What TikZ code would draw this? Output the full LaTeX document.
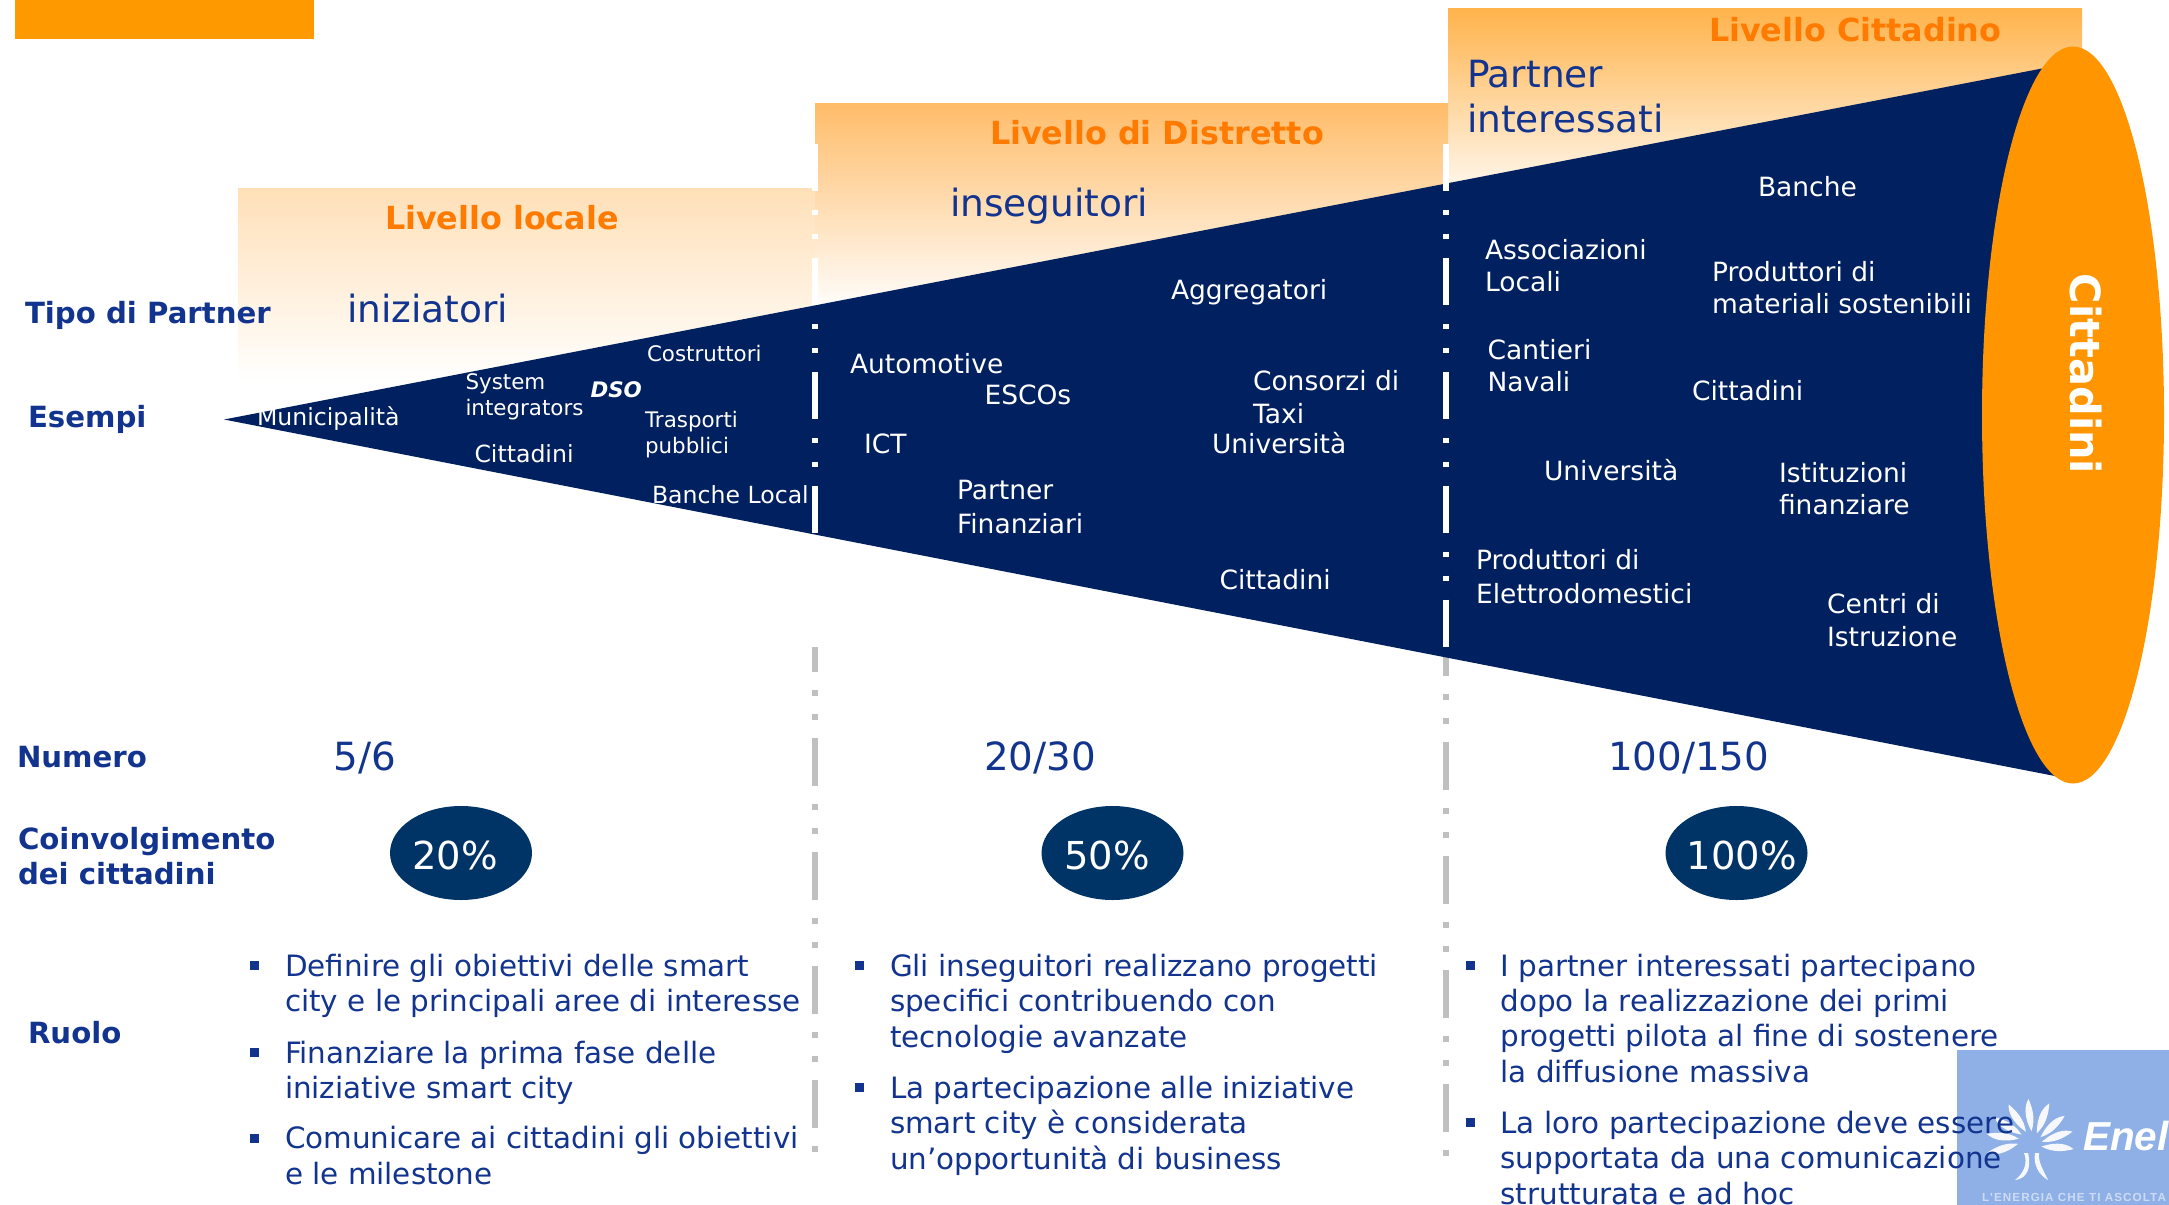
\documentclass[tikz,border=0pt]{standalone}
\usepackage{fontspec}
\setmainfont{DejaVu Sans}
\newfontfamily\enelfont{Liberation Sans}
\definecolor{navyfill}{HTML}{00205F}
\definecolor{ink}{HTML}{12348F}
\definecolor{orangetop}{HTML}{FF9900}
\definecolor{orangeell}{HTML}{FF9500}
\definecolor{orangetxt}{HTML}{FF7A00}
\definecolor{bubble}{HTML}{003366}
\definecolor{divgrey}{HTML}{C0C0C0}
\definecolor{logoblue}{HTML}{8FB0E6}
\definecolor{locA}{RGB}{255,224,184}
\definecolor{locB}{RGB}{255,240,228}
\definecolor{disA}{RGB}{255,188,105}
\definecolor{disB}{RGB}{255,222,200}
\definecolor{citA}{RGB}{255,179,75}
\definecolor{citB}{RGB}{255,204,170}
\tikzset{
  tx/.style={anchor=base west,inner sep=0pt,outer sep=0pt,align=left},
  rowlabel/.style={tx,yshift=-0.7pt,text=ink,font=\bfseries\fontsize{29.2}{35}\selectfont},
  bodytext/.style={tx,yshift=-1pt,text=ink,font=\fontsize{29.4}{35.2}\selectfont},
  bigtext/.style={tx,yshift=-1pt,text=ink,font=\fontsize{37.5}{44.6}\selectfont},
  numtext/.style={tx,text=ink,font=\fontsize{38.8}{44}\selectfont},
  leveltext/.style={tx,yshift=-1pt,text=orangetxt,font=\bfseries\fontsize{31.8}{36}\selectfont},
  wlarge/.style={tx,text=white,font=\fontsize{26.5}{32.5}\selectfont},
  wmid/.style={tx,text=white,font=\fontsize{23.6}{28}\selectfont},
  wsmall/.style={tx,text=white,font=\fontsize{21.4}{26}\selectfont},
  pct/.style={ellipse,inner sep=0pt,fill=bubble,minimum width=142pt,minimum height=94pt},
  pcttext/.style={text=white,inner sep=0pt,font=\fontsize{38.5}{44}\selectfont},
  bul/.style={fill=ink,inner sep=0pt,minimum width=9pt,minimum height=9pt},
  dashline/.style={line width=6pt,dash pattern=on 47.7pt off 18.3pt on 6pt off 18pt on 6pt off 18pt},
  whiteline/.style={line width=5.4pt,white,dash pattern=on 47.7pt off 18.7pt on 5.4pt off 18.3pt on 5.4pt off 18.5pt},
  petal/.style={fill=white,opacity=.92},
}
\usetikzlibrary{shapes.geometric}
\begin{document}
\begin{tikzpicture}[x=1pt,y=-1pt]
\useasboundingbox (0,0) rectangle (2169,1205);
% top-left bar
\fill[orangetop] (15,0) rectangle (314,39);
% level bands
\shade[top color=locA,middle color=locB,bottom color=white] (238,188) rectangle (816,382);
\shade[top color=disA,middle color=disB,bottom color=white] (815,103) rectangle (1449,312);
\shade[top color=citA,middle color=citB,bottom color=white] (1448,8) rectangle (2082,210);
% grey dividers
\draw[dashline,divgrey] (815,624) -- (815,1152);
\draw[dashline,divgrey] (1446,628) -- (1446,1156);
% wedge
\fill[navyfill] (224,419.5) -- (2060,65) -- (2060,777) -- cycle;
% white dividers
\draw[whiteline] (815,143.6) -- (815,648);
\draw[whiteline] (1446,143.6) -- (1446,648);
% cone end
\fill[orangeell] (2073,415) ellipse [x radius=91,y radius=368.5];
\node[rotate=-90,inner sep=0pt,text=white,font=\bfseries\fontsize{41.5}{48}\selectfont] (citt) at (2086,374) {Cittadini};
% logo
\fill[logoblue] (1957,1050) rectangle (2169,1205);
\begin{scope}[shift={(2030,1143)}]
  \foreach \a in {-8,15,38,64,92,119,144,168,193}{
    \fill[petal] (-\a+9:12) .. controls (-\a-12:28) and (-\a-6:38) .. (-\a:44) .. controls (-\a+7:34) and (-\a+15:24) .. cycle;
  }
  \fill[petal] (-6,10) .. controls (-2,20) and (-6,30) .. (-15,37) .. controls (-4,36) and (2,26) .. (-2,10) -- cycle;
  \fill[petal] (5,10) .. controls (3,22) and (9,32) .. (18,37) .. controls (14,28) and (8,20) .. (9,10) -- cycle;
\end{scope}
\node[tx,text=white,font=\enelfont\bfseries\itshape\fontsize{40.5}{44}\selectfont] (enel) at (2083,1150) {Enel};
\node[tx,text=white,opacity=.55,font=\enelfont\bfseries\addfontfeatures{LetterSpace=9}\fontsize{11.7}{13}\selectfont] (motto) at (1982,1201.5) {L'ENERGIA CHE TI ASCOLTA};
% row labels
\node[rowlabel] (r1) at (25,322.7) {Tipo di Partner};
\node[rowlabel] (r2) at (28,426.7) {Esempi};
\node[rowlabel] (r3) at (17,766.7) {Numero};
\node[rowlabel] (r4) at (18,884) {Coinvolgimento\\dei cittadini};
\node[rowlabel] (r5) at (28,1042.7) {Ruolo};
% level titles
\node[leveltext] (l1) at (385,228) {Livello locale};
\node[leveltext] (l2) at (990,143.6) {Livello di Distretto};
\node[leveltext] (l3) at (1709,40) {Livello Cittadino};
% partner type
\node[bigtext] (t1) at (347,321.7) {iniziatori};
\node[bigtext] (t2) at (950,215.7) {inseguitori};
\node[bigtext] (t3) at (1467,131) {Partner\\interessati};
% local examples
\node[wmid] (a1) at (257,425) {Municipalità};
\node[wsmall] (a2) at (465.5,415) {System\\integrators};
\node[wmid] (a3) at (474.5,462.5) {Cittadini};
\node[wsmall] (a4) at (647,361) {Costruttori};
\node[wsmall] (a5) at (645,453) {Trasporti\\pubblici};
\node[tx,text=white,font=\bfseries\itshape\fontsize{21.4}{26}\selectfont] (a6) at (590.5,397) {DSO};
\node[wmid] (a7) at (652,503) {Banche Local};
% district examples
\node[wlarge] (b1) at (850,373.5) {Automotive};
\node[wlarge] (b2) at (984.5,404) {ESCOs};
\node[wlarge] (b3) at (864,453) {ICT};
\node[wlarge,font=\fontsize{26.5}{33.5}\selectfont] (b4) at (957,533) {Partner\\Finanziari};
\node[wlarge] (b5) at (1171,299.5) {Aggregatori};
\node[wlarge] (b6) at (1253,423) {Consorzi di\\Taxi};
\node[wlarge] (b7) at (1212,453.5) {Università};
\node[wlarge] (b8) at (1219.5,589) {Cittadini};
% citizen examples
\node[wlarge] (c1) at (1758,196) {Banche};
\node[wlarge] (c2) at (1485,291.5) {Associazioni\\Locali};
\node[wlarge] (c3) at (1712,313.5) {Produttori di\\materiali sostenibili};
\node[wlarge] (c4) at (1487.5,391.5) {Cantieri\\Navali};
\node[wlarge] (c5) at (1692,400) {Cittadini};
\node[wlarge] (c6) at (1544,480) {Università};
\node[wlarge] (c7) at (1779,514.6) {Istituzioni\\finanziare};
\node[wlarge,font=\fontsize{26.5}{33.5}\selectfont] (c8) at (1476,603) {Produttori di\\Elettrodomestici};
\node[wlarge] (c9) at (1827,646) {Centri di\\Istruzione};
% numbers
\node[numtext] (n1) at (333.5,770) {5/6};
\node[numtext] (n2) at (984,770) {20/30};
\node[numtext] (n3) at (1608,770) {100/150};
% percentages
\node[pct] (p1) at (461,853) {};
\node[pct] (p2) at (1112.5,853) {};
\node[pct] (p3) at (1736.5,853) {};
\node[pcttext] (p1t) at (455,855) {20\%};
\node[pcttext] (p2t) at (1107,855) {50\%};
\node[pcttext] (p3t) at (1742,855) {100\%};
% roles, column 1
\node[bul] (u1) at (254.5,965.5) {};
\node[bul] (u2) at (254.5,1052) {};
\node[bul] (u3) at (254.5,1138) {};
\node[bodytext] (d1) at (285,1010.7) {Definire gli obiettivi delle smart\\city e le principali aree di interesse};
\node[bodytext] (d2) at (285,1097.7) {Finanziare la prima fase delle\\iniziative smart city};
\node[bodytext] (d3) at (285,1183) {Comunicare ai cittadini gli obiettivi\\e le milestone};
% roles, column 2
\node[bul] (v1) at (859.5,965.5) {};
\node[bul] (v2) at (859.5,1087.5) {};
\node[bodytext] (e1) at (890,1046) {Gli inseguitori realizzano progetti\\specifici contribuendo con\\tecnologie avanzate};
\node[bodytext] (e2) at (890,1168) {La partecipazione alle iniziative\\smart city è considerata\\un’opportunità di business};
% roles, column 3
\node[bul] (w1) at (1470.5,965.5) {};
\node[bul] (w2) at (1470.5,1122.5) {};
\node[bodytext] (f1) at (1500.5,1081) {I partner interessati partecipano\\dopo la realizzazione dei primi\\progetti pilota al fine di sostenere\\la diffusione massiva};
\node[bodytext] (f2) at (1500.5,1203) {La loro partecipazione deve essere\\supportata da una comunicazione\\strutturata e ad hoc};
\end{tikzpicture}
\end{document}
